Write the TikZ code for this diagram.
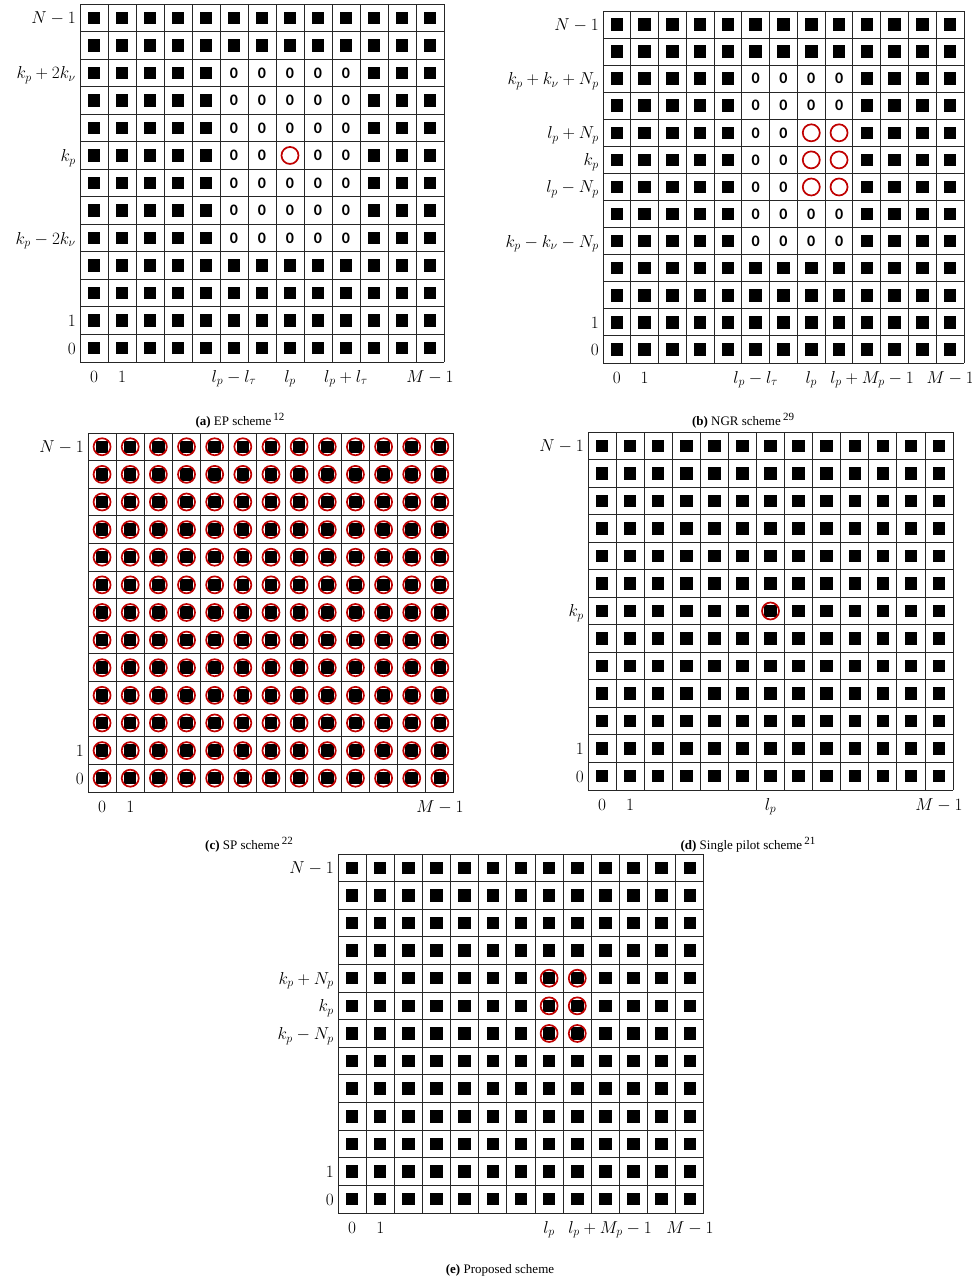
\documentclass[tikz,border=0pt]{standalone}
\usepackage{amsmath}
\usepackage{fontspec}
\usepackage{tikz}
\usetikzlibrary{positioning}

\newfontfamily\capfont{Liberation Serif}
\newfontfamily\guardfont{Carlito}
\definecolor{pilotred}{RGB}{192,0,0}
\newcommand{\capref}[1]{\,\raisebox{5pt}{\fontsize{11}{11}\selectfont #1}}

\tikzset{
  cellgrid/.style={draw=black!85, line width=0.9pt, step=1},
  data/.style={rectangle, fill=black, minimum size=12.5pt, inner sep=0pt},
  pilot/.style={circle, draw=pilotred, line width=1.7pt, minimum size=17pt, inner sep=0pt},
  guard/.style={font=\guardfont\bfseries\fontsize{16}{16}\selectfont, inner sep=0pt},
  rowlbl/.style={anchor=base east, xshift=-4pt, yshift=-6pt, inner sep=0pt,
                 font=\fontsize{17}{20}\selectfont},
  collbl/.style={anchor=base, yshift=-20pt, inner sep=0pt,
                 font=\fontsize{17}{20}\selectfont},
  subcap/.style={font=\capfont\fontsize{13}{15}\selectfont},
}

\begin{document}
\begin{tikzpicture}[x=1pt, y=-1pt]

  \useasboundingbox (0,0) rectangle (972,1280);

  \begin{scope}[shift={(80,362)}, x=28pt, y=27.54pt]
    \draw[cellgrid] (0,0) grid (13,13);
    \foreach \c in {0,...,12} \foreach \r in {0,...,12} {
      \pgfmathtruncatemacro\kind{(\c>4)*(\c<10)*(\r>3)*(\r<11)+(\c==7)*(\r==7)}
      \ifcase\kind \node[data] (a-\c-\r) at (\c+.5,\r+.5) {};
      \or \node[guard] (a-\c-\r) at (\c+.5,\r+.5) {0};
      \or \node[pilot] (a-\c-\r) at (\c+.5,\r+.5) {};
      \fi
    }
    \foreach \r/\txt in {12/N-1, 10/k_p+2k_\nu, 7/k_p, 4/k_p-2k_\nu, 1/1, 0/0}
      \node[rowlbl] (a-row-\r) at (0,\r+.5) {$\txt$};
    \foreach \c/\txt in {0/0, 1/1, 5/l_p-l_\tau, 7/l_p, 9/l_p+l_\tau, 12/M-1}
      \node[collbl] (a-col-\c) at (\c+.5,0) {$\txt$};
  \end{scope}

  \begin{scope}[shift={(603,363)}, x=27.77pt, y=27.08pt]
    \draw[cellgrid] (0,0) grid (13,13);
    \foreach \c in {0,...,12} \foreach \r in {0,...,12} {
      \pgfmathtruncatemacro\kind{(\c>4)*(\c<9)*(\r>3)*(\r<11)+(\c>6)*(\c<9)*(\r>5)*(\r<9)}
      \ifcase\kind \node[data] (b-\c-\r) at (\c+.5,\r+.5) {};
      \or \node[guard] (b-\c-\r) at (\c+.5,\r+.5) {0};
      \or \node[pilot] (b-\c-\r) at (\c+.5,\r+.5) {};
      \fi
    }
    \foreach \r/\txt in {12/N-1, 10/k_p+k_\nu+N_p, 8/l_p+N_p, 7/k_p, 6/l_p-N_p, 4/k_p-k_\nu-N_p, 1/1, 0/0}
      \node[rowlbl] (b-row-\r) at (0,\r+.5) {$\txt$};
    \foreach \c/\txt in {0/0, 1/1, 5/l_p-l_\tau, 7/l_p, 12/M-1}
      \node[collbl] (b-col-\c) at (\c+.5,0) {$\txt$};
    \node[collbl, anchor=base west, xshift=5pt] (b-col-8) at (8,0) {$l_p+M_p-1$};
  \end{scope}

  \begin{scope}[shift={(88,792)}, x=28.15pt, y=27.62pt]
    \draw[cellgrid] (0,0) grid (13,13);
    \foreach \c in {0,...,12} \foreach \r in {0,...,12} {
      \node[data] (c-\c-\r) at (\c+.5,\r+.5) {};
      \node[pilot] (c-p-\c-\r) at (\c+.5,\r+.5) {};
    }
    \foreach \r/\txt in {12/N-1, 1/1, 0/0}
      \node[rowlbl] (c-row-\r) at (0,\r+.5) {$\txt$};
    \foreach \c/\txt in {0/0, 1/1, 12/M-1}
      \node[collbl] (c-col-\c) at (\c+.5,0) {$\txt$};
  \end{scope}

  \begin{scope}[shift={(588,790)}, x=28.08pt, y=27.54pt]
    \draw[cellgrid] (0,0) grid (13,13);
    \foreach \c in {0,...,12} \foreach \r in {0,...,12}
      \node[data] (d-\c-\r) at (\c+.5,\r+.5) {};
    \node[pilot] (d-pilot) at (6.5,6.5) {};
    \foreach \r/\txt in {12/N-1, 6/k_p, 1/1, 0/0}
      \node[rowlbl] (d-row-\r) at (0,\r+.5) {$\txt$};
    \foreach \c/\txt in {0/0, 1/1, 6/l_p, 12/M-1}
      \node[collbl] (d-col-\c) at (\c+.5,0) {$\txt$};
  \end{scope}

  \begin{scope}[shift={(338,1213)}, x=28.15pt, y=27.62pt]
    \draw[cellgrid] (0,0) grid (13,13);
    \foreach \c in {0,...,12} \foreach \r in {0,...,12}
      \node[data] (e-\c-\r) at (\c+.5,\r+.5) {};
    \foreach \c in {7,8} \foreach \r in {6,7,8}
      \node[pilot] (e-p-\c-\r) at (\c+.5,\r+.5) {};
    \foreach \r/\txt in {12/N-1, 8/k_p+N_p, 7/k_p, 6/k_p-N_p, 1/1, 0/0}
      \node[rowlbl] (e-row-\r) at (0,\r+.5) {$\txt$};
    \foreach \c/\txt in {0/0, 1/1, 7/l_p, 12/M-1}
      \node[collbl] (e-col-\c) at (\c+.5,0) {$\txt$};
    \node[collbl, anchor=base west, xshift=5pt] (e-col-8) at (8,0) {$l_p+M_p-1$};
  \end{scope}

  \node[subcap] (cap-a) at (240,421) {\textbf{(a)} EP scheme\capref{12}};
  \node[subcap] (cap-b) at (743,421) {\textbf{(b)} NGR scheme\capref{29}};
  \node[subcap] (cap-c) at (249,845) {\textbf{(c)} SP scheme\capref{22}};
  \node[subcap] (cap-d) at (748,845) {\textbf{(d)} Single pilot scheme\capref{21}};
  \node[subcap] (cap-e) at (500,1270) {\textbf{(e)} Proposed scheme};

\end{tikzpicture}
\end{document}
